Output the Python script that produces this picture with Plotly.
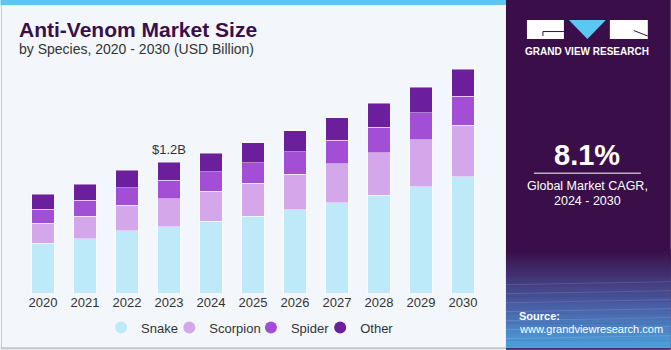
import plotly.graph_objects as go

years = ["2020", "2021", "2022", "2023", "2024", "2025", "2026", "2027", "2028", "2029", "2030"]
snake = [0.454, 0.497, 0.571, 0.607, 0.656, 0.705, 0.763, 0.827, 0.897, 0.976, 1.065]
scorpion = [0.187, 0.208, 0.235, 0.256, 0.275, 0.302, 0.327, 0.357, 0.390, 0.428, 0.473]
spider = [0.128, 0.147, 0.158, 0.171, 0.180, 0.189, 0.204, 0.217, 0.235, 0.250, 0.268]
other = [0.137, 0.143, 0.162, 0.165, 0.171, 0.183, 0.195, 0.204, 0.217, 0.233, 0.245]
series_names = ["Snake", "Scorpion", "Spider", "Other"]
colors = ["#bde9f9", "#d4a7eb", "#a34fd5", "#6b1f9c"]
label_year = "2023"
label_text = "&#36;1.2B"

W, H = 671, 350
L, R, T, B = 21.5, 187.0, 64.0, 56.7
PW, PH = W - L - R, H - T - B


def px(x):
    return (x - L) / PW


def py(y):
    return (H - B - y) / PH


fig = go.Figure()
for name, vals, col in zip(series_names, [snake, scorpion, spider, other], colors):
    fig.add_trace(go.Bar(x=years, y=vals, name=name, marker=dict(color=col, line=dict(color="rgba(255,255,255,0.45)", width=1)),
                         showlegend=False, hoverinfo="skip"))
legend_ids = ["legend", "legend2", "legend3", "legend4"]
for name, col, lid in zip(series_names, colors, legend_ids):
    fig.add_trace(go.Scatter(x=[None], y=[None], mode="markers", name=name, legend=lid,
                             marker=dict(color=col, size=12, symbol="circle")))

idx = years.index(label_year)
total = snake[idx] + scorpion[idx] + spider[idx] + other[idx]

shapes = []
shapes.append(dict(type="rect", xref="paper", yref="paper", x0=px(0), x1=px(506), y0=py(5), y1=py(0),
                   fillcolor="#5cc6ee", line=dict(width=0), layer="below"))
shapes.append(dict(type="line", xref="paper", yref="paper", x0=px(1), x1=px(1), y0=py(348), y1=py(5),
                   line=dict(color="#c9ced4", width=1), layer="below"))
shapes.append(dict(type="line", xref="paper", yref="paper", x0=px(0), x1=px(671), y0=py(348.5), y1=py(348.5),
                   line=dict(color="#c3c6ca", width=2), layer="below"))
shapes.append(dict(type="rect", xref="paper", yref="paper", x0=px(506), x1=px(671), y0=py(350), y1=py(0),
                   fillcolor="#3a0f49", line=dict(width=0), layer="below"))
c0 = (58, 15, 73)
c1 = (74, 98, 170)
c2 = (76, 160, 220)
n = 40
top_g, bot_g = 250.0, 348.0
for i in range(n):
    t = i / (n - 1)
    if t < 0.6:
        u = t / 0.6
        c = tuple(int(c0[k] + (c1[k] - c0[k]) * u) for k in range(3))
    else:
        u = (t - 0.6) / 0.4
        c = tuple(int(c1[k] + (c2[k] - c1[k]) * u) for k in range(3))
    y0 = top_g + (bot_g - top_g) * i / n
    y1 = top_g + (bot_g - top_g) * (i + 1) / n
    shapes.append(dict(type="rect", xref="paper", yref="paper", x0=px(506), x1=px(671), y0=py(y1 + 0.5), y1=py(y0),
                       fillcolor="rgb(%d,%d,%d)" % c, line=dict(width=0), layer="below"))
for k in range(7):
    yy = 285 + k * 9
    shapes.append(dict(type="line", xref="paper", yref="paper", x0=px(506), x1=px(671), y0=py(yy), y1=py(yy - 3),
                       line=dict(color="rgba(255,255,255,0.12)", width=1), layer="below"))
# logo
shapes.append(dict(type="rect", xref="paper", yref="paper", x0=px(527), x1=px(564), y0=py(39), y1=py(20),
                   fillcolor="white", line=dict(width=0), layer="below"))
shapes.append(dict(type="path", xref="paper", yref="paper",
                   path="M %f,%f L %f,%f L %f,%f" % (px(564), py(31.5), px(543), py(31.5), px(543), py(36)),
                   line=dict(color="#3a0f49", width=1), layer="below"))
shapes.append(dict(type="path", xref="paper", yref="paper",
                   path="M %f,%f L %f,%f L %f,%f Z" % (px(569), py(20), px(606), py(20), px(587.5), py(39)),
                   fillcolor="#5bc8f4", line=dict(width=0), layer="below"))
shapes.append(dict(type="rect", xref="paper", yref="paper", x0=px(610), x1=px(648), y0=py(39), y1=py(20),
                   fillcolor="white", line=dict(width=0), layer="below"))
shapes.append(dict(type="line", xref="paper", yref="paper", x0=px(634), x1=px(648), y0=py(30.5), y1=py(36),
                   line=dict(color="#3a0f49", width=1), layer="below"))
shapes.append(dict(type="line", xref="paper", yref="paper", x0=px(534), x1=px(641), y0=py(173.3), y1=py(173.3),
                   line=dict(color="white", width=1), layer="below"))

annotations = [
    dict(text="<b>Anti-Venom Market Size</b>", xref="paper", yref="paper", x=px(16), y=py(29), xanchor="left",
         yanchor="middle", showarrow=False, font=dict(family="Liberation Sans", size=21, color="#3a0f49")),
    dict(text="by Species, 2020 - 2030 (USD Billion)", xref="paper", yref="paper", x=px(16.5), y=py(49),
         xanchor="left", yanchor="middle", showarrow=False, font=dict(family="Liberation Sans", size=14, color="#333333")),
    dict(text=label_text, x=idx, y=total, xref="x", yref="y", yanchor="bottom", yshift=3, showarrow=False,
         font=dict(family="Liberation Sans", size=13, color="#333333")),
    dict(text="<b>GRAND VIEW RESEARCH</b>", xref="paper", yref="paper", x=px(587.5), y=py(51.5), xanchor="center",
         yanchor="middle", showarrow=False, font=dict(family="Liberation Sans", size=10, color="white")),
    dict(text="<b>8.1%</b>", xref="paper", yref="paper", x=px(587.5), y=py(155), xanchor="center",
         yanchor="middle", showarrow=False, font=dict(family="Liberation Sans", size=29, color="white")),
    dict(text="Global Market CAGR,", xref="paper", yref="paper", x=px(587.5), y=py(186), xanchor="center",
         yanchor="middle", showarrow=False, font=dict(family="Liberation Sans", size=12.5, color="white")),
    dict(text="2024 - 2030", xref="paper", yref="paper", x=px(587.5), y=py(201), xanchor="center",
         yanchor="middle", showarrow=False, font=dict(family="Liberation Sans", size=12.5, color="white")),
    dict(text="<b>Source:</b>", xref="paper", yref="paper", x=px(517), y=py(316), xanchor="left",
         yanchor="middle", showarrow=False, font=dict(family="Liberation Sans", size=11, color="white")),
    dict(text="www.grandviewresearch.com", xref="paper", yref="paper", x=px(517), y=py(329.5), xanchor="left",
         yanchor="middle", showarrow=False, font=dict(family="Liberation Sans", size=11, color="white")),
]

marker_x = [125.7, 194.0, 275.7, 345.0]
legends = {}
for lid, mx in zip(legend_ids, marker_x):
    legends[lid] = dict(orientation="h", x=px(mx - 25), y=py(328), xanchor="left", yanchor="middle",
                        font=dict(size=13, color="#333333"), bgcolor="rgba(0,0,0,0)", itemwidth=30)

fig.update_layout(
    width=W, height=H, barmode="stack", bargap=0.453,
    margin=dict(l=L, r=R, t=T, b=B, pad=0, autoexpand=False),
    paper_bgcolor="#f3f7fb", plot_bgcolor="#f3f7fb",
    font=dict(family="Liberation Sans", color="#333333"),
    xaxis=dict(type="category", range=[-0.5, 10.5], showgrid=False, showline=False, zeroline=False,
               ticks="", tickfont=dict(size=13, color="#333333"), ticklabelstandoff=0, automargin=False),
    yaxis=dict(range=[0, PH / 109.2], visible=False, showgrid=False, automargin=False),
    showlegend=True,
    shapes=shapes, annotations=annotations,
    **legends,
)

fig.write_html("out.html")
